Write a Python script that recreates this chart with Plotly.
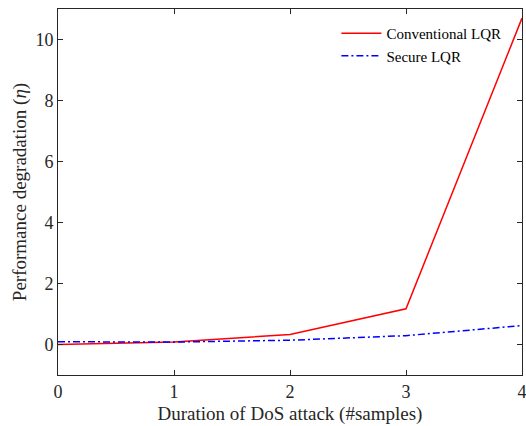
import plotly.graph_objects as go

durations = [0, 1, 2, 3, 4]
conventional = [0.0, 0.08, 0.33, 1.17, 10.7]
secure = [0.09, 0.08, 0.14, 0.29, 0.62]
x_ticks = [0, 1, 2, 3, 4]
y_ticks = [0, 2, 4, 6, 8, 10]

SERIF = "Liberation Serif"
GRAY = "#262626"

fig = go.Figure()
fig.add_trace(go.Scatter(x=durations, y=conventional, mode="lines", name="Conventional LQR",
                         line=dict(color="#ff0000", width=1.5)))
fig.add_trace(go.Scatter(x=durations, y=secure, mode="lines", name="Secure LQR",
                         line=dict(color="#0000ff", width=1.5, dash="7px,3px,2px,3px")))

axis_common = dict(showgrid=False, zeroline=False, showline=True, linecolor=GRAY, linewidth=1,
                   mirror="ticks", ticks="inside", ticklen=5, tickcolor=GRAY,
                   ticklabeloverflow="allow", automargin=False,
                   tickfont=dict(family=SERIF, size=18, color=GRAY))
fig.update_layout(
    width=526, height=426,
    margin=dict(l=58, r=4, t=9, b=51, autoexpand=False),
    plot_bgcolor="white", paper_bgcolor="white",
    font=dict(family=SERIF, size=18, color=GRAY),
    xaxis=dict(range=[0, 4], tickvals=x_ticks,
               title=dict(text="Duration of DoS attack (#samples)", standoff=6,
                          font=dict(family=SERIF, size=19, color=GRAY)),
               **axis_common),
    yaxis=dict(range=[-1, 11], tickvals=y_ticks,
               title=dict(text="Performance degradation (<i>η</i>)", standoff=3,
                          font=dict(family=SERIF, size=19, color=GRAY)),
               **axis_common),
    legend=dict(x=0.60, y=0.978, xanchor="left", yanchor="top", bgcolor="rgba(0,0,0,0)",
                font=dict(family=SERIF, size=15, color="#000000"),
                tracegroupgap=0, itemwidth=40),
    showlegend=True,
)
fig.write_html("out.html", config={"displayModeBar": False},
               post_script="document.body.style.margin='0';")
